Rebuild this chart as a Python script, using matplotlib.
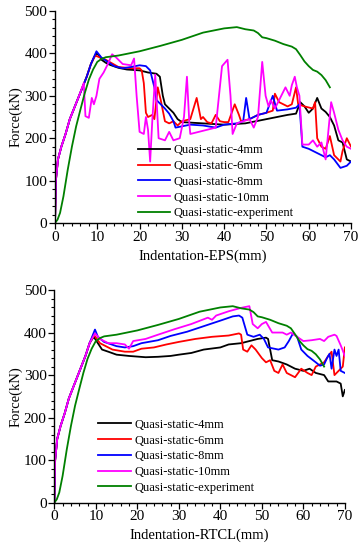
import matplotlib
matplotlib.use("Agg")
import matplotlib.pyplot as plt
from matplotlib.ticker import MultipleLocator

plt.rcParams['font.family'] = ['Liberation Serif', 'DejaVu Serif']

labels = ["Quasi-static-4mm", "Quasi-static-6mm", "Quasi-static-8mm",
          "Quasi-static-10mm", "Quasi-static-experiment"]
colors = ["#000000", "#ff0000", "#0000ff", "#ff00ff", "#008000"]

# shared initial rise for simulations
rise_x = [0, 0.2, 0.7, 1.5, 2.5, 3.5, 4.5, 5.5, 6.5, 7.5, 8.5]
rise_y = [0, 100, 150, 180, 210, 245, 270, 295, 320, 345, 375]

# experiment curve (same in both panels)
exp_x = [0, 0.6, 1.2, 2, 3, 4, 5, 6, 7, 8, 9, 10, 11, 12, 15, 20, 25, 30, 35, 40, 43, 45,
         47, 48, 49, 50, 52, 54, 56, 57, 58, 59, 60, 61, 62, 63, 64, 65]
exp_y = [0, 8, 24, 63, 125, 180, 228, 267, 305, 338, 362, 380, 387, 391, 395, 405, 418, 432,
         449, 459, 462, 457, 454, 448, 438, 436, 430, 422, 416, 410, 396, 381, 370, 361, 357,
         349, 337, 320]

# ---------- Top panel (EPS) ----------
eps4_x = rise_x + [9.2, 9.8, 10.5, 11, 12, 13, 15, 17, 20, 22, 24, 24.8, 25.5, 26, 27, 28, 29, 30,
                   35, 40, 45, 50, 55, 57, 58, 59, 60, 61, 62, 63, 64, 65, 66, 67, 68, 69, 70]
eps4_y = rise_y + [390, 400, 395, 385, 378, 373, 366, 362, 360, 355, 352, 345, 300, 280, 270, 260,
                   245, 238, 235, 232, 235, 245, 255, 258, 285, 275, 260, 270, 295, 270, 262, 250,
                   230, 195, 190, 150, 145]

eps6_x = rise_x + [9.5, 12, 15, 18, 20, 20.5, 21, 21.5, 22, 23, 23.5, 24.3, 25, 26, 27, 28, 29,
                   30, 32, 33.5, 34.5, 35, 36, 37, 38, 39, 40, 41, 42.5, 43.5, 44, 46, 48, 50, 51.5,
                   52, 53, 55, 56, 57, 57.5, 59, 61, 61.5, 62, 63, 64, 65, 66, 67.5, 68, 69, 70]
eps6_y = rise_y + [395, 385, 368, 365, 365, 360, 330, 260, 250, 255, 245, 320, 290, 240, 235, 240,
                   230, 240, 245, 295, 245, 250, 238, 235, 255, 240, 238, 238, 280, 255, 240, 245,
                   255, 260, 265, 305, 285, 275, 280, 320, 280, 275, 270, 285, 200, 180, 175, 205,
                   160, 145, 170, 200, 180]

eps8_x = rise_x + [9.8, 11, 14, 16, 18, 20, 21.5, 22.5, 23.5, 24, 25, 26, 27, 28, 28.5, 30, 32,
                   35, 38, 40, 43, 44.5, 45.2, 46, 48, 50, 51.5, 52.5, 55, 57, 57.8, 58.5, 60, 62,
                   63, 64, 65, 66, 67.5, 69, 70]
eps8_y = rise_y + [405, 390, 370, 365, 368, 372, 370, 360, 320, 290, 280, 270, 258, 240, 225, 228,
                   232, 230, 225, 232, 235, 240, 295, 245, 255, 260, 300, 265, 268, 272, 280, 180,
                   175, 165, 160, 155, 160, 150, 130, 135, 145]

eps10_x = rise_x[:-3] + [6.8, 7.2, 8, 8.7, 9.2, 9.8, 10.5, 11.5, 12.5, 13.5, 14.5, 16, 18, 18.7,
                         19.3, 20, 21, 21.5, 22, 22.5, 23, 23.7, 24.5, 26, 27, 28, 29.5, 30.5,
                         31.2, 31.8, 32, 34, 36, 38, 39.5, 40.8, 41.5, 42, 43, 46, 47, 48, 49,
                         49.8, 50.5, 51, 52, 54.5, 55.5, 56, 56.7, 57.2, 57.8, 58.5, 60, 61, 62,
                         63, 64, 65.3, 66, 67, 68, 69, 70]
eps10_y = rise_y[:-3] + [330, 252, 248, 295, 280, 300, 340, 355, 375, 398, 390, 375, 372, 388,
                         300, 215, 210, 250, 220, 145, 240, 350, 200, 195, 215, 195, 200, 250,
                         345, 230, 210, 215, 220, 225, 370, 385, 300, 210, 235, 245, 225, 250,
                         380, 300, 275, 290, 270, 320, 300, 325, 345, 320, 300, 185, 185, 195,
                         180, 190, 150, 285, 260, 220, 195, 180, 175]

# ---------- Bottom panel (RTCL) ----------
rt4_x = rise_x + [9.5, 10.5, 11.5, 13, 15, 18, 22, 25, 28, 30, 33, 36, 40, 42, 45, 47, 49, 51,
                  51.5, 52.5, 54, 56, 58, 60, 61.5, 63, 65, 66, 68, 69, 69.5, 70]
rt4_y = rise_y + [390, 375, 360, 355, 348, 345, 342, 343, 345, 348, 352, 360, 365, 372, 375, 380,
                  385, 388, 385, 335, 332, 325, 315, 310, 315, 305, 300, 285, 285, 280, 250, 265]

rt6_x = rise_x + [9.5, 11, 14, 17, 19, 21, 24, 27, 30, 34, 38, 42, 44.5, 45, 45.5, 46.5, 47.5,
                  48.5, 50, 51, 52, 53, 54, 55, 56, 57, 58, 59.5, 61, 62, 63, 64, 65, 66, 66.8,
                  67.5, 68.5, 69.5, 70]
rt6_y = rise_y + [395, 375, 360, 355, 355, 362, 365, 372, 378, 385, 390, 393, 398, 395, 360, 355,
                  370, 360, 340, 330, 335, 310, 305, 325, 305, 300, 295, 315, 305, 300, 320, 325,
                  330, 345, 355, 300, 310, 320, 365]

rt8_x = rise_x + [9.8, 10.5, 12, 15, 17, 19, 21, 25, 28, 32, 36, 40, 43, 44.5, 45.3, 46.5, 48,
                  49.5, 50.5, 51.5, 54, 55.5, 56.5, 57.5, 58.5, 59.5, 61, 63, 64, 65, 65.7, 66.3,
                  66.8, 67.5, 68, 68.5, 69, 70]
rt8_y = rise_y + [407, 390, 378, 368, 365, 368, 375, 382, 392, 402, 415, 428, 438, 440, 435, 395,
                  390, 395, 385, 365, 360, 365, 380, 398, 390, 360, 345, 330, 322, 325, 340, 350,
                  315, 360, 345, 360, 310, 305]

rt10_x = rise_x + [9.8, 11, 13, 15, 17, 18, 19, 22, 25, 29, 33, 37, 38, 39, 42, 45, 47, 47.8, 49,
                   50, 51, 52.5, 55, 56, 57, 60, 62, 64, 65, 66, 67.5, 68, 69, 70]
rt10_y = rise_y + [398, 385, 375, 375, 372, 362, 380, 385, 395, 408, 420, 435, 430, 440, 450, 458,
                   462, 420, 410, 420, 425, 400, 400, 395, 400, 380, 382, 385, 380, 390, 395, 392,
                   370, 345]

fig = plt.figure(figsize=(3.63, 5.5), dpi=100)
ax1 = fig.add_axes([0.1515, 0.5945, 0.8155, 0.3855])
ax2 = fig.add_axes([0.1496, 0.086, 0.8004, 0.3867])

panels = [
    (ax1, [(eps4_x, eps4_y), (eps6_x, eps6_y), (eps8_x, eps8_y), (eps10_x, eps10_y),
           (exp_x, exp_y)], "Indentation-EPS(mm)", (0.262, -0.006)),
    (ax2, [(rt4_x, rt4_y), (rt6_x, rt6_y), (rt8_x, rt8_y), (rt10_x, rt10_y),
           (exp_x, exp_y)], "Indentation-RTCL(mm)", (0.134, 0.018)),
]

for ax, series, xlabel, legpos in panels:
    for (xs, ys), c, lab in zip(series, colors, labels):
        ax.plot(xs, ys, color=c, lw=1.3, label=lab)
    ax.set_xlim(0, 70)
    ax.set_ylim(0, 500)
    ax.set_xticks(range(0, 71, 10))
    ax.set_yticks(range(0, 501, 100))
    ax.xaxis.set_minor_locator(MultipleLocator(2))
    ax.yaxis.set_minor_locator(MultipleLocator(20))
    ax.tick_params(which='major', direction='out', length=4, width=0.9, labelsize=11, pad=1.5)
    ax.tick_params(which='minor', direction='out', length=2.2, width=0.8)
    for s in ['top', 'right']:
        ax.spines[s].set_visible(False)
    for s in ['left', 'bottom']:
        ax.spines[s].set_linewidth(1.0)
    ax.set_xlabel(xlabel, fontsize=10.5, labelpad=4)
    ax.set_ylabel("Force(kN)", fontsize=10.5, labelpad=1)
    ax.legend(loc='lower left', bbox_to_anchor=legpos, frameon=False, fontsize=9,
              handlelength=2.6, handletextpad=0.3, labelspacing=0.3, borderaxespad=0)

fig.savefig("out.png", dpi=100)
